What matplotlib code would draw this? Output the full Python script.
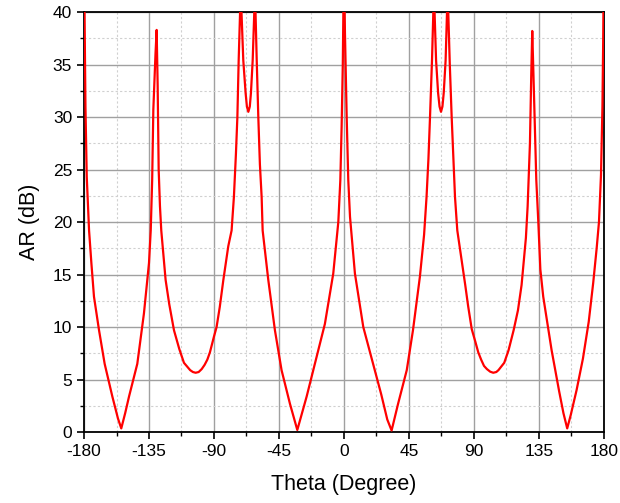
import numpy as np
import matplotlib.pyplot as plt
from matplotlib.ticker import MultipleLocator

plt.rcParams['font.family'] = ['Liberation Sans', 'DejaVu Sans']
plt.rcParams['axes.unicode_minus'] = False

# Axial ratio vs theta (values above 40 are clipped)
theta = [-180, -179.5, -179, -178.1, -176.5, -174.9, -173.1, -169.6, -165.7,
         -160.4, -156.5, -154.2, -151.5, -148.8, -143.1, -138.5, -135,
         -133.8, -132.8, -132, -130.5, -129.7, -129, -128.3, -127.4, -126.5,
         -123.5, -121, -117.7, -114, -110.8, -106.5, -104.6, -102.7, -100.6,
         -98.5, -96.5, -94.6, -92.8, -90, -88.2, -86,
         -83.5, -80.1, -77.8, -76.2, -74.8, -73.8, -72.9, -71.5, -69.7,
         -68.1, -67.2, -66.2, -65.2, -64.4, -63.2, -61.6, -60.4, -59.3,
         -58.2, -57, -56.3, -52.4, -47.8, -43.2, -37.4, -32.3, -25.8, -18.9,
         -13.2, -7.4, -3.9, -2.5, -1.6, -0.8, 0,
         0.7, 1.9, 3, 4.2, 7.6, 13.4, 19.2, 25.8, 30, 33, 37.5, 43.5, 47.8,
         52.6, 55.5, 57.2, 58.5, 59.6, 61, 62.3, 63.8, 65.2, 66.2, 67.2, 68.2,
         69.1, 70.4, 71.8, 73.3, 74.6, 75.8, 76.9, 78.5, 80.5, 84, 86, 88.5,
         91, 93, 95, 97, 99, 101.3, 103.4, 105.5, 107, 111, 114, 117.5,
         120.5, 123, 126, 127.2, 128.3, 128.8, 129.7, 130.4, 131.2, 132.2,
         133.2, 134.6, 136, 138, 143.8, 149, 152, 154.6, 157, 161.1, 165.5,
         169.5, 172.6, 175, 176.6, 178, 179, 179.5, 180]
ar_db = [45, 38, 31, 24.3, 19.2, 16.1, 12.9, 9.7, 6.5,
         3.4, 1.3, 0.35, 1.8, 3.4, 6.5, 11.3, 16.1,
         19.2, 24, 30.7, 36, 38.3, 33, 25, 21.5, 19.2,
         14.5, 12.2, 9.7, 7.9, 6.6, 5.9, 5.72, 5.65, 5.72,
         6.0, 6.4, 6.9, 7.6, 9.1, 10.0, 11.9,
         14.5, 17.7, 19.2, 22.4, 26.5, 30.0, 35.4, 42, 35.4,
         32.3, 31.0, 30.5, 31.0, 32.3, 35.4, 42, 35.4, 30,
         25.5, 22.4, 19.2, 14.5, 9.7, 5.9, 2.7, 0.2, 3.4, 7.2,
         10.3, 15.1, 20, 24, 29.1, 35, 45,
         38, 30, 24, 20.5, 15.1, 10.0, 7.0, 3.6, 1.2, 0.15, 2.7, 5.9, 9.7,
         14.8, 18.8, 22.4, 26, 30, 35.5, 42, 35.4, 32.3, 31.0, 30.5, 31.0,
         32.3, 35.4, 42, 35, 30, 26, 22.4, 19.2, 17.3, 14, 12.0, 9.8,
         8.6, 7.6, 6.9, 6.3, 6.0, 5.75, 5.65, 5.72, 5.9, 6.6, 7.8, 9.7,
         11.6, 14, 18.5, 21.5, 25.5, 27.5, 34, 38.2, 34, 29.1,
         24, 20, 15.5, 12.9, 7.8, 3.9, 1.8, 0.35, 1.6, 4, 7,
         10.5, 14.2, 17.5, 20, 24.5, 31, 37, 45]

fig = plt.figure(figsize=(6.2, 5.03), dpi=100)
ax = fig.add_axes([0.1355, 0.141, 0.8385, 0.835])

ax.plot(theta, ar_db, color='#ff0000', linewidth=1.6, zorder=3)

ax.set_xlim(-180, 180)
ax.set_ylim(0, 40)
ax.xaxis.set_major_locator(MultipleLocator(45))
ax.xaxis.set_minor_locator(MultipleLocator(22.5))
ax.yaxis.set_major_locator(MultipleLocator(5))
ax.yaxis.set_minor_locator(MultipleLocator(2.5))

ax.grid(True, which='major', color='#a0a0a0', linewidth=1.0)
ax.grid(True, which='minor', color='#d0d0d0', linewidth=0.8, linestyle=(0, (2, 2)))
ax.set_axisbelow(True)

for s in ax.spines.values():
    s.set_linewidth(1.3)
    s.set_color('black')

ax.tick_params(which='major', direction='out', length=5, width=1.2, labelsize=12.5)
ax.tick_params(which='minor', direction='out', length=3, width=1.0)

ax.set_xlabel('Theta (Degree)', fontsize=15.5, labelpad=11)
ax.set_ylabel('AR (dB)', fontsize=15.5, labelpad=9)

fig.savefig('out.png', dpi=100)
